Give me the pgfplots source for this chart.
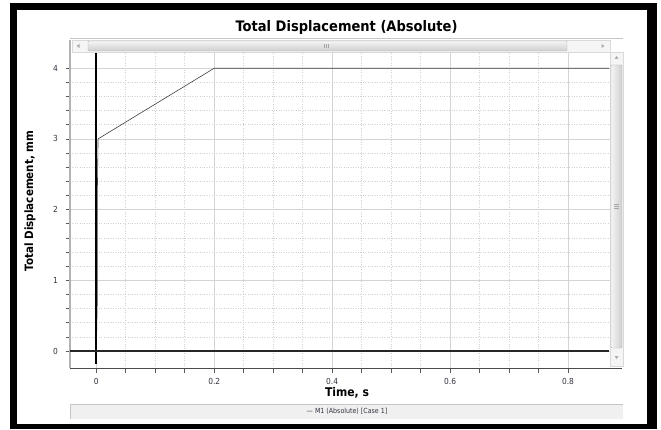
\documentclass[border=0pt]{standalone}
\usepackage{pgfplots}
\pgfplotsset{compat=1.18}
\usepackage{fontspec}
\setmainfont{DejaVu Sans}
\newfontfamily\tah{DejaVu Sans}[FakeStretch=0.9]
\definecolor{tickc}{HTML}{333340}
\definecolor{gridmaj}{HTML}{D4D4D4}
\definecolor{gridmin}{HTML}{D0D0D0}
\begin{document}
\begin{tikzpicture}
\useasboundingbox (0pt,0pt) rectangle (661pt,429pt);
\fill[white] (0pt,0pt) rectangle (661pt,429pt);
\fill[black] (10pt,0pt) rectangle (657pt,426pt);
\fill[white] (17pt,5pt) rectangle (647pt,419pt);
\begin{axis}[
  at={(70pt,61pt)}, anchor=south west,
  scale only axis, width=552pt, height=328pt,
  xmin=-0.0446, xmax=0.8916, ymin=-0.2405, ymax=4.399,
  xtick={0,0.2,0.4,0.6,0.8}, minor x tick num=3,
  ytick={0,1,2,3,4}, minor y tick num=4,
  grid=both,
  major grid style={solid, draw=gridmaj, line width=0.8pt},
  minor grid style={dotted, draw=gridmin, line width=0.6pt},
  axis x line*=bottom, axis y line*=left,
  x axis line style={-, draw=black!70, line width=0.8pt},
  y axis line style={-, draw=black!30, line width=1.6pt},
  tick align=outside,
  major tick length=4.5pt, minor tick length=4.5pt,
  every tick/.style={draw=black!65, line width=0.6pt},
  /pgf/number format/assume math mode=true,
  ticklabel style={font=\tah\fontsize{8.3}{9}\selectfont, text=tickc},
  yticklabel style={xshift=-4pt},
  xticklabel style={yshift=-2pt},
  clip=true,
]
\addplot[black!75, line width=0.6pt] coordinates {
  (0,0) (0.0018,0.75) (0.0018,2.25) (0.003,3.0) (0.2,4.0) (0.8696,4.0)
};
\addplot[black, line width=1.6pt] coordinates {(0,-0.18) (0,4.399)};
\addplot[black!85, line width=1.5pt] coordinates {(-0.0446,0) (0.8696,0)};
\end{axis}
% title underline
\draw[gray!45, line width=1pt] (70pt,390pt) -- (623pt,390pt);
% horizontal scrollbar
\fill[white] (610pt,377pt) rectangle (623pt,389.5pt);
\fill[gray!8] (72pt,377pt) rectangle (610pt,389pt);
\draw[gray!30, line width=0.4pt] (72pt,377pt) rectangle (610pt,389pt);
\shade[top color=gray!8, bottom color=gray!38, draw=gray!55, line width=0.4pt, rounded corners=1pt] (88pt,378pt) rectangle (567pt,388pt);
\foreach \i in {-2,0,2} \draw[gray!70, line width=0.5pt] ({326pt+\i pt},381pt) -- ({326pt+\i pt},385pt);
\fill[gray!65] (76.5pt,383pt) -- (79.5pt,385pt) -- (79.5pt,381pt) -- cycle;
\fill[gray!65] (604.5pt,383pt) -- (601.5pt,385pt) -- (601.5pt,381pt) -- cycle;
% vertical scrollbar
\fill[gray!8] (610pt,63pt) rectangle (623pt,377pt);
\draw[gray!30, line width=0.4pt] (610pt,63pt) rectangle (623pt,377pt);
\shade[left color=gray!8, right color=gray!38, draw=gray!55, line width=0.4pt, rounded corners=1pt] (611pt,81pt) rectangle (622pt,364pt);
\foreach \i in {-2,0,2} \draw[gray!70, line width=0.5pt] (614pt,{223pt+\i pt}) -- (619pt,{223pt+\i pt});
\fill[gray!65] (616.5pt,373pt) -- (614.5pt,370pt) -- (618.5pt,370pt) -- cycle;
\fill[gray!65] (616.5pt,70pt) -- (614.5pt,73pt) -- (618.5pt,73pt) -- cycle;
% legend bar
\fill[gray!12] (70pt,10pt) rectangle (623pt,25pt);
\draw[gray!45, line width=0.6pt] (70pt,10pt) -- (70pt,25pt) -- (623pt,25pt);
\node[font=\tah\fontsize{7}{8}\selectfont, text=tickc] at (347pt,17.5pt) {— M1 (Absolute) [Case 1]};
% texts
\node[anchor=base, font=\tah\bfseries\fontsize{14.5}{16}\selectfont] at (346.5pt,397.5pt) {Total Displacement (Absolute)};
\node[font=\tah\bfseries\fontsize{12}{14}\selectfont] at (347pt,36pt) {Time, s};
\node[rotate=90, font=\tah\bfseries\fontsize{11.5}{14}\selectfont] at (30pt,228pt) {Total Displacement, mm};
\end{tikzpicture}
\end{document}
